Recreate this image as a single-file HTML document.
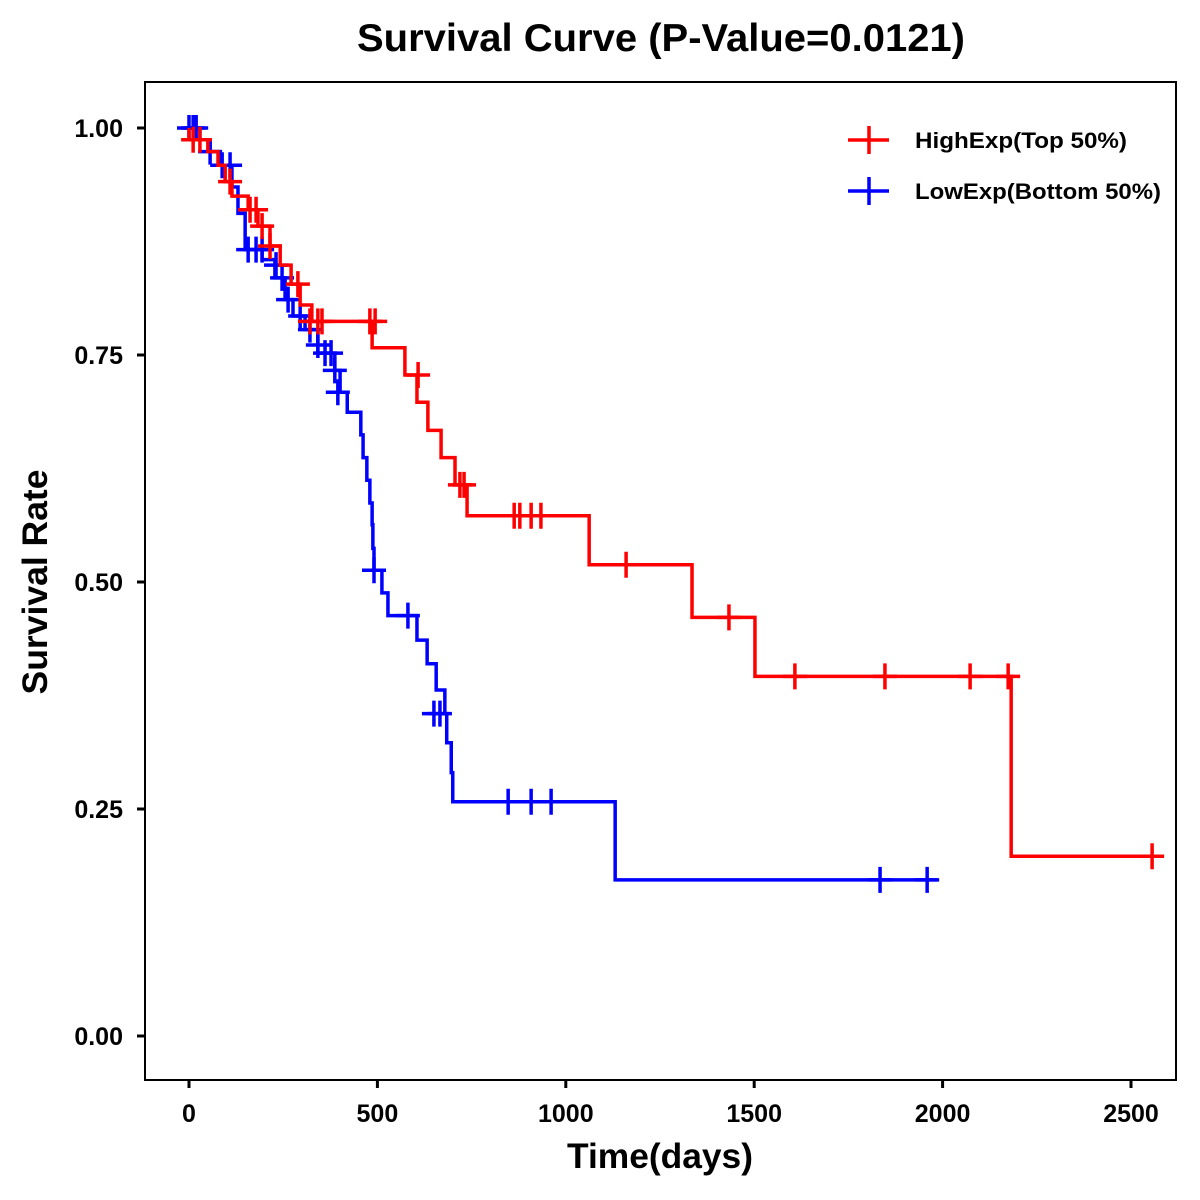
<!DOCTYPE html>
<html><head><meta charset="utf-8"><style>
html,body{margin:0;padding:0;background:#fff;}
svg{display:block;font-family:"Liberation Sans",Arial,sans-serif;font-weight:bold;}
</style></head><body>
<svg id="chart" width="1200" height="1200" viewBox="0 0 1200 1200">
<text x="661" y="51" font-size="39" text-anchor="middle" textLength="608" lengthAdjust="spacingAndGlyphs">Survival Curve (P-Value=0.0121)</text>
<rect x="145" y="82" width="1031" height="998" fill="none" stroke="#000" stroke-width="2"/>
<g id="axes"></g>
<g id="series"></g>
<text x="660" y="1168" font-size="35" text-anchor="middle" textLength="186" lengthAdjust="spacingAndGlyphs">Time(days)</text>
<text transform="translate(47,582) rotate(-90)" font-size="35" text-anchor="middle" textLength="225" lengthAdjust="spacingAndGlyphs">Survival Rate</text>
<g>
<g>
<line x1="848" y1="140" x2="889" y2="140" stroke="#f00" stroke-width="3.5"/>
<line x1="869" y1="126" x2="869" y2="154" stroke="#f00" stroke-width="3.5"/>
<text x="915" y="148" font-size="22" textLength="212" lengthAdjust="spacingAndGlyphs">HighExp(Top 50%)</text></g>
<g>
<line x1="848" y1="191" x2="889" y2="191" stroke="#00f" stroke-width="3.5"/>
<line x1="869" y1="177" x2="869" y2="205" stroke="#00f" stroke-width="3.5"/>
<text x="915" y="199" font-size="22" textLength="246" lengthAdjust="spacingAndGlyphs">LowExp(Bottom 50%)</text></g>
</g>
</svg>
<script>
const xTicks=[0,500,1000,1500,2000,2500];
const yTicks=[0,0.25,0.5,0.75,1.0];
const yTickLabels=["0.00","0.25","0.50","0.75","1.00"];
const highStepTimes=[0,50,77,96,114,157,183,215,242,271,295,326,486,573,605,634,669,706,738,1062,1335,1502,2182];
const highStepSurv=[0.987,0.974,0.959,0.941,0.925,0.910,0.892,0.870,0.849,0.828,0.805,0.787,0.758,0.728,0.698,0.667,0.637,0.607,0.573,0.519,0.461,0.396,0.198];
const highEnd=2556;
const highCensorTimes=[11,29,109,162,178,194,215,289,321,342,353,480,494,608,719,730,863,878,908,934,1160,1433,1608,1847,2073,2174,2556];
const highCensorSurv=[0.987,0.987,0.941,0.910,0.910,0.892,0.870,0.828,0.787,0.787,0.787,0.787,0.787,0.728,0.607,0.607,0.573,0.573,0.573,0.573,0.519,0.461,0.396,0.396,0.396,0.396,0.198];
const lowStepTimes=[0,29,56,82,114,130,149,194,228,255,276,308,342,387,401,420,456,462,472,480,486,488,491,512,528,605,632,656,679,684,696,700,1131];
const lowStepSurv=[1.0,0.987,0.974,0.959,0.935,0.906,0.866,0.855,0.835,0.811,0.793,0.778,0.752,0.733,0.709,0.687,0.662,0.637,0.612,0.587,0.563,0.537,0.513,0.488,0.463,0.436,0.410,0.381,0.355,0.323,0.290,0.258,0.172];
const lowEnd=1985;
const lowCensorTimes=[0,11,19,56,88,109,157,178,194,231,247,263,295,321,342,361,377,387,395,491,581,650,666,847,908,961,1834,1959];
const lowCensorSurv=[1,1,1,0.974,0.959,0.959,0.866,0.866,0.866,0.849,0.835,0.811,0.793,0.778,0.761,0.752,0.752,0.733,0.709,0.513,0.463,0.355,0.355,0.258,0.258,0.258,0.172,0.172];

const NS='http://www.w3.org/2000/svg';
function X(t){return 189+t*0.3768;}
function Y(s){return 1036-s*908;}
function mk(tag,attrs,parent){const e=document.createElementNS(NS,tag);for(const k in attrs)e.setAttribute(k,attrs[k]);parent.appendChild(e);return e;}
const axes=document.getElementById('axes');
xTicks.forEach(t=>{
  const l=mk('line',{x1:X(t),x2:X(t),y1:1080,y2:1088,stroke:'#000','stroke-width':3},axes);
  
  
  const tx=mk('text',{x:X(t),y:1122,'font-size':25,'text-anchor':'middle'},axes);
  tx.textContent=String(t);
  
  
});
yTicks.forEach((v,i)=>{
  const l=mk('line',{x1:137,x2:145,y1:Y(v),y2:Y(v),stroke:'#000','stroke-width':3},axes);
  
  
  const tx=mk('text',{x:123,y:Y(v)+9,'font-size':25,'text-anchor':'end'},axes);
  tx.textContent=yTickLabels[i];
  
  
});
const ser=document.getElementById('series');
function drawCurve(times,surv,end,ct,cs,color,name){
  const g=mk('g',{},ser);
  
  
  let d='M'+X(0)+','+Y(1);
  for(let i=0;i<times.length;i++){
    d+=' H'+X(times[i])+' V'+Y(surv[i]);
  }
  d+=' H'+X(end);
  const p=mk('path',{d:d,fill:'none',stroke:color,'stroke-width':3.5},g);
  
  
  for(let i=0;i<ct.length;i++){
    const cx=X(ct[i]),cy=Y(cs[i]);
    const c=mk('path',{d:'M'+(cx-12)+','+cy+' H'+(cx+12)+' M'+cx+','+(cy-13)+' V'+(cy+13),stroke:color,'stroke-width':3.5,fill:'none'},g);
    
    
  }
}
drawCurve(lowStepTimes,lowStepSurv,lowEnd,lowCensorTimes,lowCensorSurv,'#00f','low-exp');
drawCurve(highStepTimes,highStepSurv,highEnd,highCensorTimes,highCensorSurv,'#f00','high-exp');
</script>
</body></html>
